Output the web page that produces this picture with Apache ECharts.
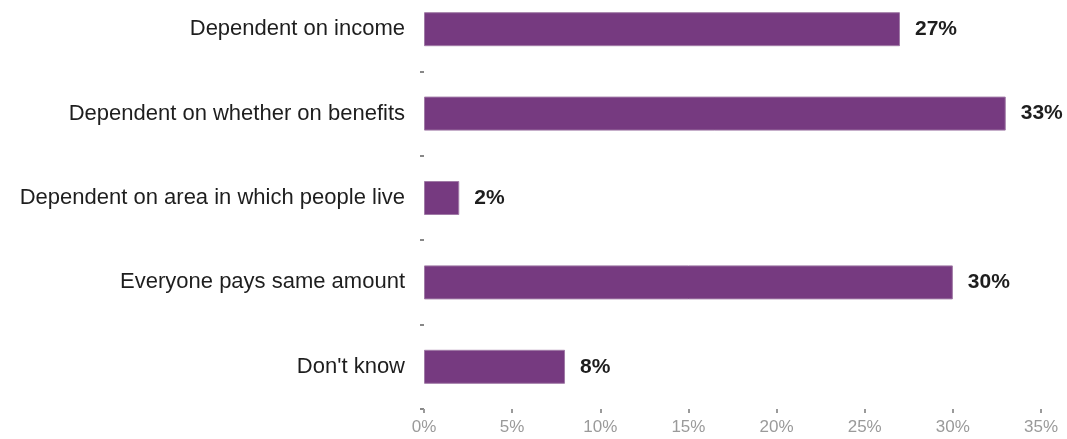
<!DOCTYPE html>
<html>
<head>
<meta charset="utf-8">
<script src="https://cdn.jsdelivr.net/npm/echarts@6/dist/echarts.min.js"></script>
<style>
  html, body { margin: 0; padding: 0; background: #fff; }
  #chart { width: 1067px; height: 439px; }
</style>
</head>
<body>
<div id="chart"></div>
<script>
// Answer options, listed top to bottom
const categories = [
  'Dependent on income',
  'Dependent on whether on benefits',
  'Dependent on area in which people live',
  'Everyone pays same amount',
  "Don't know"
];
// Share of respondents (%)
const shares = [27, 33, 2, 30, 8];
// Value axis range and step (%)
const axisMin = 0;
const axisMax = 35;
const axisStep = 5;

const chart = echarts.init(document.getElementById('chart'));
chart.setOption({
  animation: false,
  backgroundColor: '#ffffff',
  grid: {
    left: 424, right: 26, top: -13, bottom: 30,
    containLabel: false,
    outerBoundsMode: 'none'
  },
  xAxis: {
    type: 'value',
    min: axisMin,
    max: axisMax,
    interval: axisStep,
    axisLine: { show: false },
    axisTick: { show: true, length: 4, lineStyle: { color: '#9a9a9a', width: 2 } },
    splitLine: { show: false },
    axisLabel: {
      formatter: v => v + '%',
      color: '#9a9a9a',
      fontFamily: 'Liberation Sans',
      fontSize: 17,
      margin: 10
    }
  },
  yAxis: {
    type: 'category',
    data: categories,
    inverse: true,
    axisLine: { show: false },
    axisTick: { show: true, length: 4, lineStyle: { color: '#888', width: 2 } },
    axisLabel: {
      color: '#1e1e1e',
      fontFamily: 'Liberation Sans',
      fontSize: 22,
      margin: 19
    }
  },
  series: [{
    type: 'bar',
    data: shares,
    barWidth: 34,
    itemStyle: { color: '#763a80', borderColor: '#a07aa6', borderWidth: 1 },
    label: {
      show: true,
      position: 'right',
      distance: 15,
      formatter: p => p.value + '%',
      color: '#1e1e1e',
      fontFamily: 'Liberation Sans',
      fontWeight: 'bold',
      fontSize: 21
    }
  }]
});
</script>
</body>
</html>
